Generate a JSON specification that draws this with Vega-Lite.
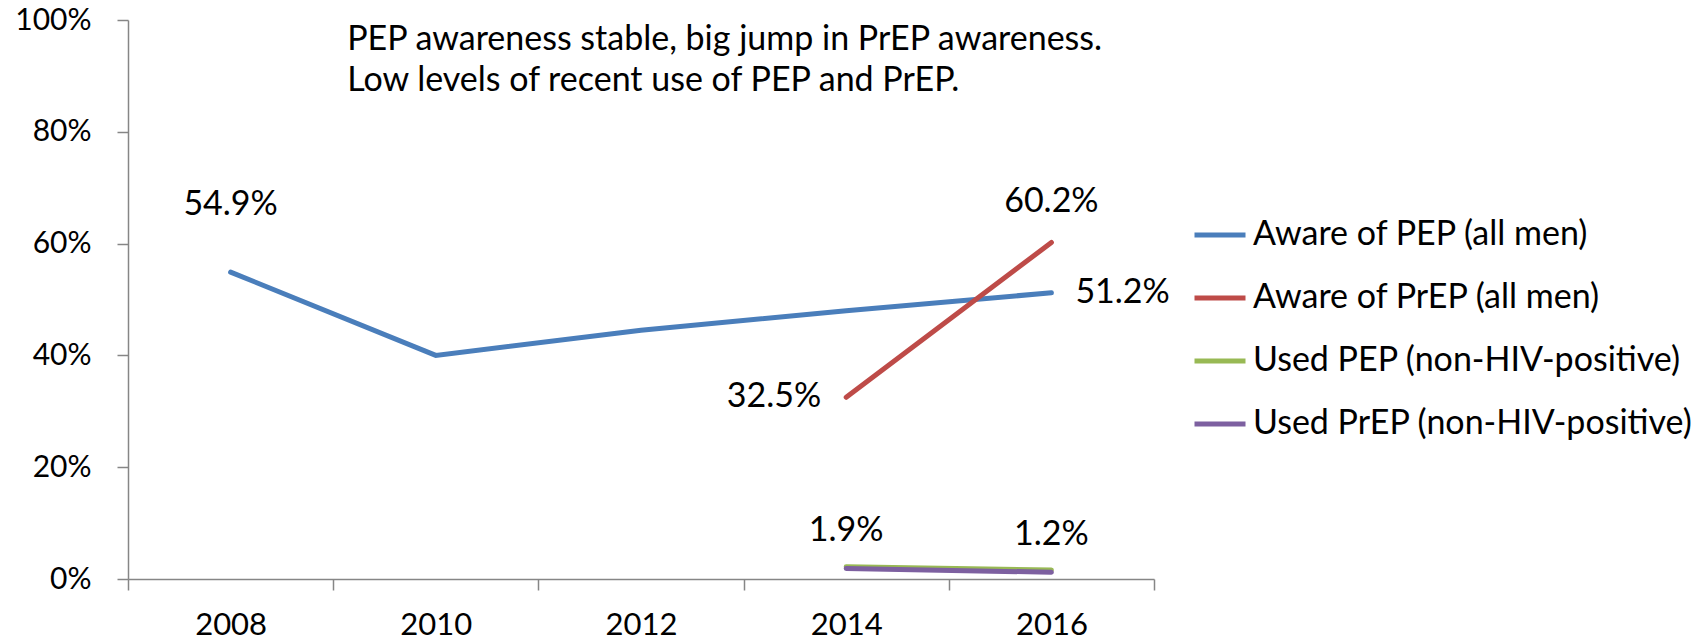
{
  "$schema": "https://vega.github.io/schema/vega-lite/v6.json",
  "width": 1026,
  "height": 559,
  "autosize": {"type": "none"},
  "padding": {"left": 128, "top": 20, "right": 553, "bottom": 62},
  "background": "white",
  "config": {"view": {"stroke": null}, "font": "Lato"},
  "datasets": {
    "main": [
      {"year": "2008", "series": "Aware of PEP (all men)", "value": 0.549},
      {"year": "2010", "series": "Aware of PEP (all men)", "value": 0.400},
      {"year": "2012", "series": "Aware of PEP (all men)", "value": 0.445},
      {"year": "2014", "series": "Aware of PEP (all men)", "value": 0.480},
      {"year": "2016", "series": "Aware of PEP (all men)", "value": 0.512},
      {"year": "2014", "series": "Aware of PrEP (all men)", "value": 0.325},
      {"year": "2016", "series": "Aware of PrEP (all men)", "value": 0.602},
      {"year": "2014", "series": "Used PEP (non-HIV-positive)", "value": 0.022},
      {"year": "2016", "series": "Used PEP (non-HIV-positive)", "value": 0.016},
      {"year": "2014", "series": "Used PrEP (non-HIV-positive)", "value": 0.019},
      {"year": "2016", "series": "Used PrEP (non-HIV-positive)", "value": 0.012}
    ],
    "notes": [
      {"year": "2010", "pos": 0.965, "note": "PEP awareness stable, big jump in PrEP awareness."},
      {"year": "2010", "pos": 0.890, "note": "Low levels of recent use of PEP and PrEP."}
    ]
  },
  "data": {"name": "main"},
  "encoding": {
    "x": {
      "field": "year", "type": "ordinal", "bandPosition": 0.5,
      "scale": {"type": "band", "paddingInner": 0, "paddingOuter": 0},
      "axis": {
        "title": null, "labelAngle": 0, "tickBand": "extent", "tickSize": 11,
        "domainColor": "#868686", "tickColor": "#868686", "domainWidth": 1.5, "tickWidth": 1.5,
        "labelFontSize": 31, "labelColor": "black", "labelPadding": 20, "grid": false
      }
    },
    "y": {
      "field": "value", "type": "quantitative",
      "scale": {"domain": [0, 1], "nice": false},
      "axis": {
        "title": null, "values": [0, 0.2, 0.4, 0.6, 0.8, 1], "format": "0%", "tickSize": 11,
        "domainColor": "#868686", "tickColor": "#868686", "domainWidth": 1.5, "tickWidth": 1.5,
        "labelFontSize": 30, "labelColor": "black", "labelPadding": 26, "grid": false
      }
    }
  },
  "layer": [
    {
      "mark": {"type": "line", "strokeWidth": 5, "strokeCap": "round"},
      "encoding": {
        "color": {
          "field": "series", "type": "nominal",
          "scale": {
            "domain": ["Aware of PEP (all men)", "Aware of PrEP (all men)", "Used PEP (non-HIV-positive)", "Used PrEP (non-HIV-positive)"],
            "range": ["#4A7EBB", "#BE4B48", "#98B954", "#7D60A0"]
          },
          "legend": {
            "title": null, "orient": "none", "legendX": 1064, "legendY": 187,
            "symbolType": "stroke", "symbolSize": 2601, "symbolStrokeWidth": 5,
            "labelFontSize": 34, "labelColor": "black", "labelOffset": 5, "labelLimit": 700,
            "rowPadding": 18
          }
        }
      }
    },
    {
      "transform": [{"filter": "datum.series === 'Aware of PEP (all men)' && datum.year === '2008'"}],
      "mark": {"type": "text", "fontSize": 34, "dy": -67, "color": "black"},
      "encoding": {"text": {"field": "value", "format": ".1%"}}
    },
    {
      "transform": [{"filter": "datum.series === 'Aware of PrEP (all men)' && datum.year === '2016'"}],
      "mark": {"type": "text", "fontSize": 34, "dy": -40, "color": "black"},
      "encoding": {"text": {"field": "value", "format": ".1%"}}
    },
    {
      "transform": [{"filter": "datum.series === 'Aware of PEP (all men)' && datum.year === '2016'"}],
      "mark": {"type": "text", "fontSize": 34, "dx": 24, "align": "left", "color": "black"},
      "encoding": {"text": {"field": "value", "format": ".1%"}}
    },
    {
      "transform": [{"filter": "datum.series === 'Aware of PrEP (all men)' && datum.year === '2014'"}],
      "mark": {"type": "text", "fontSize": 34, "dx": -25, "align": "right", "color": "black"},
      "encoding": {"text": {"field": "value", "format": ".1%"}}
    },
    {
      "transform": [{"filter": "datum.series === 'Used PrEP (non-HIV-positive)'"}],
      "mark": {"type": "text", "fontSize": 34, "dy": -37, "color": "black"},
      "encoding": {"text": {"field": "value", "format": ".1%"}}
    },
    {
      "data": {"name": "notes"},
      "mark": {"type": "text", "fontSize": 34, "align": "left", "dx": 14, "color": "black"},
      "encoding": {
        "x": {"field": "year", "type": "ordinal", "bandPosition": 0},
        "y": {"field": "pos", "type": "quantitative"},
        "text": {"field": "note"}
      }
    }
  ]
}
